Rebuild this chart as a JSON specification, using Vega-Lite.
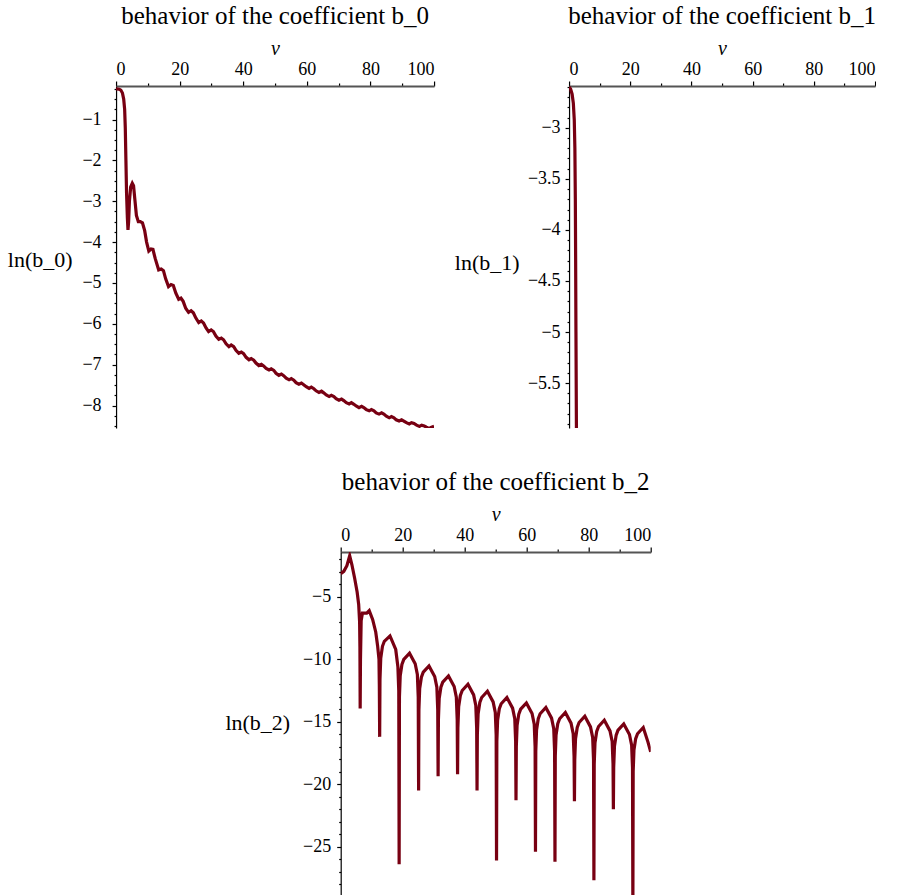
{
  "$schema": "https://vega.github.io/schema/vega-lite/v6.json",
  "padding": {"left": 7, "top": 4, "right": 0, "bottom": 0},
  "background": "white",
  "config": {
    "view": {"stroke": null},
    "axis": {
      "grid": false,
      "labelFont": "Liberation Serif",
      "labelFontSize": 18,
      "labelColor": "#000",
      "titleFont": "Liberation Serif",
      "titleFontSize": 22,
      "titleFontWeight": "normal",
      "titleColor": "#000",
      "tickColor": "#000",
      "tickWidth": 1.2
    },
    "title": {"font": "Liberation Serif", "fontSize": 25, "fontWeight": "normal", "color": "#000", "anchor": "middle", "offset": 9}
  },
  "datasets": {
    "b0": [
      {"v": 0, "y": -0.25}, {"v": 1.0, "y": -0.26}, {"v": 1.5, "y": -0.28}, {"v": 2.0, "y": -0.35},
      {"v": 2.4, "y": -0.5}, {"v": 2.7, "y": -0.75}, {"v": 2.9, "y": -1.2}, {"v": 3.1, "y": -2.0},
      {"v": 3.3, "y": -2.8}, {"v": 3.55, "y": -3.4}, {"v": 3.75, "y": -3.7}, {"v": 3.95, "y": -3.5},
      {"v": 4.2, "y": -3.0}, {"v": 4.6, "y": -2.65}, {"v": 5.1, "y": -2.56}, {"v": 5.5, "y": -2.62},
      {"v": 5.9, "y": -2.95}, {"v": 6.4, "y": -3.35}, {"v": 7.0, "y": -3.5}, {"v": 7.6, "y": -3.5},
      {"v": 8.3, "y": -3.53}, {"v": 9.0, "y": -3.72}, {"v": 9.6, "y": -4.0}, {"v": 10.3, "y": -4.22},
      {"v": 11.0, "y": -4.17}, {"v": 11.6, "y": -4.18}, {"v": 12.3, "y": -4.4}, {"v": 13.4, "y": -4.68},
      {"v": 14.2, "y": -4.66}, {"v": 14.9, "y": -4.7}, {"v": 15.6, "y": -4.9}, {"v": 16.5, "y": -5.09},
      {"v": 17.3, "y": -5.04}, {"v": 18.0, "y": -5.06}, {"v": 18.8, "y": -5.25}, {"v": 19.7, "y": -5.4},
      {"v": 20.4, "y": -5.37}, {"v": 21.1, "y": -5.45}, {"v": 21.9, "y": -5.62}, {"v": 22.8, "y": -5.72},
      {"v": 23.6, "y": -5.68}, {"v": 24.3, "y": -5.73}, {"v": 25.1, "y": -5.86}, {"v": 26.0, "y": -5.97},
      {"v": 26.8, "y": -5.93}, {"v": 27.5, "y": -5.98}, {"v": 28.3, "y": -6.1}, {"v": 29.1, "y": -6.19},
      {"v": 29.9, "y": -6.15}, {"v": 30.6, "y": -6.19}, {"v": 31.4, "y": -6.3}, {"v": 32.3, "y": -6.38},
      {"v": 33.1, "y": -6.35}, {"v": 33.8, "y": -6.39}, {"v": 34.6, "y": -6.49}, {"v": 35.5, "y": -6.56},
      {"v": 36.2, "y": -6.52}, {"v": 37.0, "y": -6.56}, {"v": 37.7, "y": -6.65}, {"v": 38.6, "y": -6.72},
      {"v": 39.4, "y": -6.69}, {"v": 40.1, "y": -6.73}, {"v": 40.9, "y": -6.82}, {"v": 41.8, "y": -6.88},
      {"v": 42.5, "y": -6.85}, {"v": 43.3, "y": -6.89}, {"v": 44.0, "y": -6.96}, {"v": 44.9, "y": -7.02},
      {"v": 45.7, "y": -6.99}, {"v": 46.4, "y": -7.03}, {"v": 47.2, "y": -7.09}, {"v": 48.1, "y": -7.13},
      {"v": 48.8, "y": -7.1}, {"v": 49.6, "y": -7.14}, {"v": 50.3, "y": -7.21}, {"v": 51.2, "y": -7.26},
      {"v": 52.0, "y": -7.23}, {"v": 52.7, "y": -7.27}, {"v": 53.5, "y": -7.33}, {"v": 54.4, "y": -7.37},
      {"v": 55.1, "y": -7.34}, {"v": 55.9, "y": -7.38}, {"v": 56.6, "y": -7.44}, {"v": 57.5, "y": -7.48},
      {"v": 58.3, "y": -7.45}, {"v": 59.0, "y": -7.49}, {"v": 59.8, "y": -7.54}, {"v": 60.7, "y": -7.58},
      {"v": 61.4, "y": -7.55}, {"v": 62.2, "y": -7.59}, {"v": 62.9, "y": -7.64}, {"v": 63.8, "y": -7.68},
      {"v": 64.6, "y": -7.65}, {"v": 65.3, "y": -7.69}, {"v": 66.1, "y": -7.74}, {"v": 67.0, "y": -7.78},
      {"v": 67.7, "y": -7.75}, {"v": 68.5, "y": -7.78}, {"v": 69.2, "y": -7.83}, {"v": 70.1, "y": -7.87},
      {"v": 70.9, "y": -7.84}, {"v": 71.6, "y": -7.88}, {"v": 72.4, "y": -7.93}, {"v": 73.3, "y": -7.96},
      {"v": 74.0, "y": -7.93}, {"v": 74.8, "y": -7.97}, {"v": 75.5, "y": -8.01}, {"v": 76.4, "y": -8.05},
      {"v": 77.2, "y": -8.02}, {"v": 77.9, "y": -8.05}, {"v": 78.7, "y": -8.1}, {"v": 79.6, "y": -8.13},
      {"v": 80.3, "y": -8.1}, {"v": 81.1, "y": -8.13}, {"v": 81.8, "y": -8.18}, {"v": 82.7, "y": -8.21},
      {"v": 83.5, "y": -8.18}, {"v": 84.2, "y": -8.21}, {"v": 85.0, "y": -8.26}, {"v": 85.9, "y": -8.3},
      {"v": 86.6, "y": -8.27}, {"v": 87.4, "y": -8.3}, {"v": 88.1, "y": -8.35}, {"v": 89.0, "y": -8.38},
      {"v": 89.8, "y": -8.35}, {"v": 90.5, "y": -8.38}, {"v": 91.3, "y": -8.42}, {"v": 92.2, "y": -8.45},
      {"v": 92.9, "y": -8.42}, {"v": 93.7, "y": -8.44}, {"v": 94.5, "y": -8.48}, {"v": 95.4, "y": -8.51},
      {"v": 96.1, "y": -8.48}, {"v": 96.9, "y": -8.5}, {"v": 97.6, "y": -8.53}, {"v": 98.4, "y": -8.56},
      {"v": 99.2, "y": -8.53}, {"v": 100, "y": -8.51}
    ],
    "b1": [
      {"v": 0, "y": -2.6}, {"v": 0.5, "y": -2.62}, {"v": 1.0, "y": -2.67}, {"v": 1.4, "y": -2.76},
      {"v": 1.7, "y": -2.92}, {"v": 1.9, "y": -3.2}, {"v": 2.05, "y": -3.7}, {"v": 2.15, "y": -4.3},
      {"v": 2.25, "y": -5.0}, {"v": 2.4, "y": -5.9}, {"v": 2.5, "y": -6.4}
    ],
    "b2": [
      {"v": 0, "y": -3.14}, {"v": 1.0, "y": -2.95}, {"v": 2.0, "y": -2.5}, {"v": 2.9, "y": -1.7},
      {"v": 3.6, "y": -2.4}, {"v": 4.5, "y": -3.5}, {"v": 5.3, "y": -4.6}, {"v": 5.8, "y": -5.6},
      {"v": 6.1, "y": -7.0}, {"v": 6.2, "y": -9.0}, {"v": 6.28, "y": -13.93},
      {"v": 6.38, "y": -10.0}, {"v": 6.6, "y": -6.9}, {"v": 7.0, "y": -6.3}, {"v": 8.4, "y": -6.3},
      {"v": 9.2, "y": -6.1}, {"v": 10.3, "y": -6.8}, {"v": 11.3, "y": -7.8}, {"v": 11.9, "y": -8.9},
      {"v": 12.35, "y": -10.0}, {"v": 12.46, "y": -12.0}, {"v": 12.57, "y": -16.2},
      {"v": 12.67, "y": -11.6}, {"v": 12.92, "y": -9.9}, {"v": 13.47, "y": -8.95}, {"v": 14.07, "y": -8.55},
      {"v": 15.9, "y": -8.12}, {"v": 17.75, "y": -9.2}, {"v": 18.45, "y": -10.6}, {"v": 18.73, "y": -12.5},
      {"v": 18.85, "y": -26.4},
      {"v": 18.95, "y": -13.0}, {"v": 19.2, "y": -11.3}, {"v": 19.75, "y": -10.4}, {"v": 20.35, "y": -10.0},
      {"v": 22.2, "y": -9.5}, {"v": 24.03, "y": -10.35}, {"v": 24.73, "y": -11.2}, {"v": 25.01, "y": -13.0},
      {"v": 25.13, "y": -20.5},
      {"v": 25.23, "y": -14.02}, {"v": 25.48, "y": -12.32}, {"v": 26.03, "y": -11.42}, {"v": 26.63, "y": -11.02},
      {"v": 28.48, "y": -10.52}, {"v": 30.32, "y": -11.37}, {"v": 31.02, "y": -12.22}, {"v": 31.3, "y": -14.02},
      {"v": 31.42, "y": -19.35},
      {"v": 31.52, "y": -14.82}, {"v": 31.77, "y": -13.12}, {"v": 32.32, "y": -12.22}, {"v": 32.92, "y": -11.82},
      {"v": 34.77, "y": -11.32}, {"v": 36.6, "y": -12.17}, {"v": 37.3, "y": -13.02}, {"v": 37.58, "y": -14.82},
      {"v": 37.7, "y": -19.2},
      {"v": 37.8, "y": -15.49}, {"v": 38.05, "y": -13.79}, {"v": 38.6, "y": -12.89}, {"v": 39.2, "y": -12.49},
      {"v": 41.05, "y": -11.99}, {"v": 42.88, "y": -12.84}, {"v": 43.58, "y": -13.69}, {"v": 43.86, "y": -15.49},
      {"v": 43.98, "y": -20.5},
      {"v": 44.08, "y": -16.05}, {"v": 44.33, "y": -14.35}, {"v": 44.88, "y": -13.45}, {"v": 45.48, "y": -13.05},
      {"v": 47.33, "y": -12.55}, {"v": 49.17, "y": -13.4}, {"v": 49.87, "y": -14.25}, {"v": 50.15, "y": -16.05},
      {"v": 50.27, "y": -26.1},
      {"v": 50.37, "y": -16.55}, {"v": 50.62, "y": -14.85}, {"v": 51.17, "y": -13.95}, {"v": 51.77, "y": -13.55},
      {"v": 53.62, "y": -13.05}, {"v": 55.45, "y": -13.9}, {"v": 56.15, "y": -14.75}, {"v": 56.43, "y": -16.55},
      {"v": 56.55, "y": -21.27},
      {"v": 56.65, "y": -16.98}, {"v": 56.9, "y": -15.28}, {"v": 57.45, "y": -14.38}, {"v": 58.05, "y": -13.98},
      {"v": 59.9, "y": -13.48}, {"v": 61.73, "y": -14.33}, {"v": 62.43, "y": -15.18}, {"v": 62.71, "y": -16.98},
      {"v": 62.83, "y": -25.4},
      {"v": 62.93, "y": -17.35}, {"v": 63.18, "y": -15.65}, {"v": 63.73, "y": -14.75}, {"v": 64.33, "y": -14.35},
      {"v": 66.18, "y": -13.85}, {"v": 68.02, "y": -14.7}, {"v": 68.72, "y": -15.55}, {"v": 69.0, "y": -17.35},
      {"v": 69.12, "y": -26.2},
      {"v": 69.22, "y": -17.75}, {"v": 69.47, "y": -16.05}, {"v": 70.02, "y": -15.15}, {"v": 70.62, "y": -14.75},
      {"v": 72.47, "y": -14.25}, {"v": 74.3, "y": -15.1}, {"v": 75.0, "y": -15.95}, {"v": 75.28, "y": -17.75},
      {"v": 75.4, "y": -21.35},
      {"v": 75.5, "y": -18.05}, {"v": 75.75, "y": -16.35}, {"v": 76.3, "y": -15.45}, {"v": 76.9, "y": -15.05},
      {"v": 78.75, "y": -14.55}, {"v": 80.58, "y": -15.4}, {"v": 81.28, "y": -16.25}, {"v": 81.56, "y": -18.05},
      {"v": 81.68, "y": -27.67},
      {"v": 81.78, "y": -18.37}, {"v": 82.03, "y": -16.67}, {"v": 82.58, "y": -15.77}, {"v": 83.18, "y": -15.37},
      {"v": 85.03, "y": -14.87}, {"v": 86.87, "y": -15.72}, {"v": 87.57, "y": -16.57}, {"v": 87.85, "y": -18.37},
      {"v": 87.96, "y": -22.0},
      {"v": 88.06, "y": -18.66}, {"v": 88.31, "y": -16.96}, {"v": 88.86, "y": -16.06}, {"v": 89.46, "y": -15.66},
      {"v": 91.31, "y": -15.16}, {"v": 93.15, "y": -16.01}, {"v": 93.85, "y": -16.86}, {"v": 94.13, "y": -18.66},
      {"v": 94.25, "y": -30.0},
      {"v": 94.35, "y": -18.95}, {"v": 94.6, "y": -17.25}, {"v": 95.15, "y": -16.35}, {"v": 95.75, "y": -15.95},
      {"v": 97.6, "y": -15.45}, {"v": 99.1, "y": -16.6}, {"v": 100, "y": -17.4}
    ]
  },
  "vconcat": [
    {
      "hconcat": [
        {
          "width": 318,
          "height": 342,
          "title": {"text": "behavior of the coefficient b_0", "fontSize": 25, "font": "Liberation Serif", "fontWeight": "normal", "offset": 9},
          "data": {"name": "b0"},
          "mark": {"type": "line", "color": "#780012", "strokeWidth": 3.2, "clip": true},
          "encoding": {
            "x": {
              "field": "v", "type": "quantitative",
              "scale": {"domain": [0, 100], "nice": false, "zero": false},
              "axis": {
                "orient": "top", "title": "v", "titleFontStyle": "italic", "titleFontSize": 20,
                "values": [0, 10, 20, 30, 40, 50, 60, 70, 80, 90, 100],
                "format": "d",
                "labelExpr": "datum.value % 20 === 0 ? datum.label : ''",
                "tickSize": {"condition": {"test": "datum.value % 20 === 0", "value": 5}, "value": 3},
                "labelPadding": 3, "titlePadding": 2,
                "domainColor": "#555", "domainWidth": 2
              }
            },
            "y": {
              "field": "y", "type": "quantitative",
              "scale": {"domain": [-8.55, -0.18], "nice": false, "zero": false},
              "axis": {
                "title": "ln(b_0)", "titleAngle": 0, "titleAlign": "right", "titleBaseline": "middle",
                "titleX": -44, "titleY": 173,
                "values": [-0.25, -0.5, -0.75, -1, -1.25, -1.5, -1.75, -2, -2.25, -2.5, -2.75, -3, -3.25, -3.5, -3.75, -4, -4.25, -4.5, -4.75, -5, -5.25, -5.5, -5.75, -6, -6.25, -6.5, -6.75, -7, -7.25, -7.5, -7.75, -8, -8.25, -8.5],
                "format": ".1~f",
                "labelExpr": "datum.value % 1 === 0 ? datum.label : ''",
                "tickSize": {"condition": {"test": "datum.value % 1 === 0", "value": 4}, "value": 2},
                "labelPadding": 11,
                "domainColor": "#000", "domainWidth": 1.2
              }
            }
          }
        },
        {
          "width": 306,
          "height": 342,
          "title": {"text": "behavior of the coefficient b_1", "fontSize": 25, "font": "Liberation Serif", "fontWeight": "normal", "offset": 9},
          "data": {"name": "b1"},
          "mark": {"type": "line", "color": "#780012", "strokeWidth": 3.2, "clip": true},
          "encoding": {
            "x": {
              "field": "v", "type": "quantitative",
              "scale": {"domain": [0, 100], "nice": false, "zero": false},
              "axis": {
                "orient": "top", "title": "v", "titleFontStyle": "italic", "titleFontSize": 20,
                "values": [0, 10, 20, 30, 40, 50, 60, 70, 80, 90, 100],
                "format": "d",
                "labelExpr": "datum.value % 20 === 0 ? datum.label : ''",
                "tickSize": {"condition": {"test": "datum.value % 20 === 0", "value": 5}, "value": 3},
                "labelPadding": 3, "titlePadding": 2,
                "domainColor": "#555", "domainWidth": 2
              }
            },
            "y": {
              "field": "y", "type": "quantitative",
              "scale": {"domain": [-5.94, -2.59], "nice": false, "zero": false},
              "axis": {
                "title": "ln(b_1)", "titleAngle": 0, "titleAlign": "right", "titleBaseline": "middle",
                "titleX": -50, "titleY": 176,
                "values": [-2.6, -2.7, -2.8, -2.9, -3, -3.1, -3.2, -3.3, -3.4, -3.5, -3.6, -3.7, -3.8, -3.9, -4, -4.1, -4.2, -4.3, -4.4, -4.5, -4.6, -4.7, -4.8, -4.9, -5, -5.1, -5.2, -5.3, -5.4, -5.5, -5.6, -5.7, -5.8, -5.9],
                "format": ".1~f",
                "labelExpr": "abs(datum.value * 2 - round(datum.value * 2)) < 0.001 ? datum.label : ''",
                "tickSize": {"condition": {"test": "abs(datum.value * 2 - round(datum.value * 2)) < 0.001", "value": 4}, "value": 2},
                "labelPadding": 5,
                "domainColor": "#000", "domainWidth": 1.2
              }
            }
          }
        }
      ],
      "spacing": 19
    },
    {
      "width": 310,
      "height": 343,
      "title": {"text": "behavior of the coefficient b_2", "fontSize": 25, "font": "Liberation Serif", "fontWeight": "normal", "offset": 9},
      "data": {"name": "b2"},
      "mark": {"type": "line", "color": "#780012", "strokeWidth": 3.2, "clip": true},
      "encoding": {
        "x": {
          "field": "v", "type": "quantitative",
          "scale": {"domain": [0, 100], "nice": false, "zero": false},
          "axis": {
            "orient": "top", "title": "v", "titleFontStyle": "italic", "titleFontSize": 20,
            "values": [0, 10, 20, 30, 40, 50, 60, 70, 80, 90, 100],
            "format": "d",
            "labelExpr": "datum.value % 20 === 0 ? datum.label : ''",
            "tickSize": {"condition": {"test": "datum.value % 20 === 0", "value": 5}, "value": 3},
            "labelPadding": 3, "titlePadding": 2,
            "domainColor": "#555", "domainWidth": 2
          }
        },
        "y": {
          "field": "y", "type": "quantitative",
          "scale": {"domain": [-28.86, -1.4], "nice": false, "zero": false},
          "axis": {
            "title": "ln(b_2)", "titleAngle": 0, "titleAlign": "right", "titleBaseline": "middle",
            "titleX": -51, "titleY": 170,
            "values": [-2, -3, -4, -5, -6, -7, -8, -9, -10, -11, -12, -13, -14, -15, -16, -17, -18, -19, -20, -21, -22, -23, -24, -25, -26, -27, -28],
            "format": "d",
            "labelExpr": "datum.value % 5 === 0 ? datum.label : ''",
            "tickSize": {"condition": {"test": "datum.value % 5 === 0", "value": 4}, "value": 2},
            "labelPadding": 6,
            "domainColor": "#000", "domainWidth": 1.2
          }
        }
      }
    }
  ],
  "spacing": 42,
  "center": true
}
